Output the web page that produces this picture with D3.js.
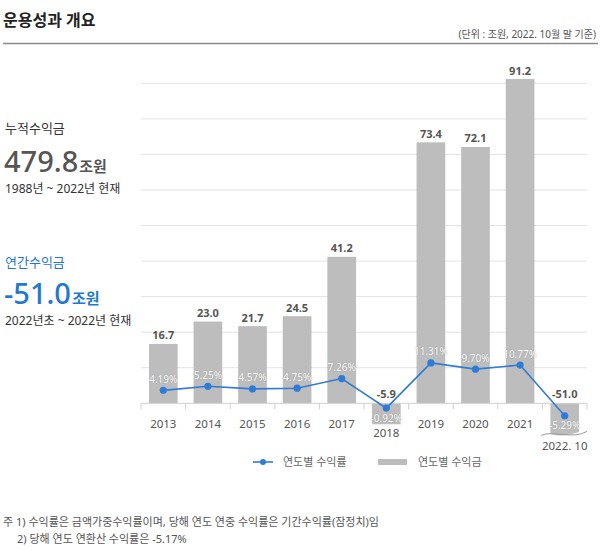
<!DOCTYPE html>
<html><head><meta charset="utf-8">
<script src="https://cdn.jsdelivr.net/npm/d3@7"></script>
<style>
html,body{margin:0;padding:0;background:#fff;}
svg{display:block;font-family:"Noto Sans","Noto Sans CJK KR",sans-serif;}
</style></head>
<body>
<svg id="chart" width="600" height="550"></svg>
<script>
const years = ["2013","2014","2015","2016","2017","2018","2019","2020","2021","2022. 10"];
const profits = [16.7, 23.0, 21.7, 24.5, 41.2, -5.9, 73.4, 72.1, 91.2, -51.0];
const rates = [4.19, 5.25, 4.57, 4.75, 7.26, -0.92, 11.31, 9.70, 10.77, -5.29];
const gridTicks = [10, 20, 30, 40, 50, 60, 70, 80, 90];
const breakValue = -8.6;

const svg = d3.select("#chart");
const blue = "#1f78d1";
const lineBlue = "#2f7bd6";

// Header
svg.append("text").attr("x", 3).attr("y", 25.5).attr("font-size", 16).attr("font-weight", 600)
  .attr("fill", "#222").text("운용성과 개요");
svg.append("text").attr("x", 596).attr("y", 37.5).attr("font-size", 10).attr("fill", "#555")
  .attr("text-anchor", "end").text("(단위 : 조원, 2022. 10월 말 기준)");
svg.append("line").attr("x1", 3).attr("x2", 598).attr("y1", 43.5).attr("y2", 43.5)
  .attr("stroke", "#8a8a8a").attr("stroke-width", 1.5);

// Left panel
svg.append("text").attr("x", 5).attr("y", 133).attr("font-size", 13).attr("fill", "#333").text("누적수익금");
const t1 = svg.append("text").attr("x", 4).attr("y", 171.5).attr("fill", "#555");
t1.append("tspan").attr("font-size", 29).attr("font-weight", 500).text("479.8");
t1.append("tspan").attr("font-size", 15).attr("font-weight", "bold").attr("dx", 1).text("조원");
svg.append("text").attr("x", 5).attr("y", 192.5).attr("font-size", 12).attr("fill", "#333").text("1988년 ~ 2022년 현재");

svg.append("text").attr("x", 5).attr("y", 267).attr("font-size", 13).attr("fill", blue).text("연간수익금");
const t2 = svg.append("text").attr("x", 4).attr("y", 304).attr("fill", blue);
t2.append("tspan").attr("font-size", 29).attr("font-weight", 500).text("-51.0");
t2.append("tspan").attr("font-size", 15).attr("font-weight", "bold").attr("dx", 1).text("조원");
svg.append("text").attr("x", 5).attr("y", 324.5).attr("font-size", 12).attr("fill", "#333").text("2022년초 ~ 2022년 현재");

// Scales
const x = d3.scaleBand().domain(years).range([141, 587]).paddingInner(0.357).paddingOuter(0.1785);
const y = d3.scaleLinear().domain([0, 90]).range([403.3, 83.3]);
const y0 = y(0);
const yr = d3.scaleLinear().domain([-6, 0, 12]).range([417, 406.5, 406.5 - 12 * 3.85]);

// Grid
svg.append("g").selectAll("line").data(gridTicks).join("line")
  .attr("x1", 141).attr("x2", 587).attr("y1", d => y(d)).attr("y2", d => y(d))
  .attr("stroke", "#e3e3e3").attr("stroke-width", 1);

// Bars
const bw = x.bandwidth();
const barG = svg.append("g");
profits.forEach((v, i) => {
  const x0 = x(years[i]), x1 = x0 + bw;
  if (v >= 0) {
    barG.append("rect").attr("x", x0).attr("y", y(v)).attr("width", bw).attr("height", y0 - y(v)).attr("fill", "#bdbdbd");
  } else if (v >= breakValue) {
    barG.append("rect").attr("x", x0).attr("y", y0).attr("width", bw).attr("height", y(v) - y0).attr("fill", "#bdbdbd");
  } else {
    const yb = y(breakValue);
    const path = d3.path();
    path.moveTo(x0, y0);
    path.lineTo(x1, y0);
    path.lineTo(x1, yb - 2);
    path.bezierCurveTo(x1 - 8, yb, x0 + 12, yb + 4, x0, yb);
    path.closePath();
    barG.append("path").attr("d", path.toString()).attr("fill", "#bdbdbd");
    const w = d3.path();
    w.moveTo(x0 - 9, yb + 1.5);
    w.bezierCurveTo(x0 + 2, yb - 4, x1 - 6, yb + 6, x1 + 8, yb - 2.5);
    barG.append("path").attr("d", w.toString()).attr("fill", "none").attr("stroke", "#9a9a9a").attr("stroke-width", 1);
  }
});

// Axis baseline & ticks
svg.append("line").attr("x1", 141).attr("x2", 587).attr("y1", y0).attr("y2", y0).attr("stroke", "#d0d0d0");
const tickXs = years.map(d => x(d) - x.step() * x.paddingOuter()).concat([587]);
svg.append("g").selectAll("line").data(tickXs).join("line")
  .attr("x1", d => d).attr("x2", d => d).attr("y1", y0).attr("y2", y0 + 6)
  .attr("stroke", "#d0d0d0");

// Year labels
svg.append("g").selectAll("text").data(years).join("text")
  .attr("x", d => x(d) + bw / 2)
  .attr("y", (d, i) => i === 9 ? 450 : (profits[i] < 0 ? 436.5 : 427.5))
  .attr("text-anchor", "middle").attr("font-size", 11.5).attr("fill", "#555").text(d => d);

// Value labels
svg.append("g").selectAll("text").data(profits).join("text")
  .attr("x", (d, i) => x(years[i]) + bw / 2)
  .attr("y", d => d >= 0 ? y(d) - 4.5 : y0 - 5)
  .attr("text-anchor", "middle").attr("font-size", 11).attr("font-weight", "bold").attr("fill", "#555")
  .text(d => d.toFixed(1));

// Line
const cx = i => x(years[i]) + bw / 2;
const line = d3.line().x((d, i) => cx(i)).y(d => yr(d));
svg.append("path").datum(rates).attr("d", line).attr("fill", "none").attr("stroke", lineBlue).attr("stroke-width", 1.6);
svg.append("g").selectAll("circle").data(rates).join("circle")
  .attr("cx", (d, i) => cx(i)).attr("cy", d => yr(d)).attr("r", 3.6).attr("fill", lineBlue);

// Rate labels
svg.append("g").selectAll("text").data(rates).join("text")
  .attr("x", (d, i) => cx(i))
  .attr("y", d => d >= 0 ? yr(d) - 7.5 : yr(d) + 13.5)
  .attr("text-anchor", "middle").attr("font-size", 10).attr("fill", "#fff")
  .style("text-shadow", "0 0 1px rgba(90,90,90,0.5)")
  .text(d => d.toFixed(2) + "%");

// Legend
const lg = svg.append("g");
lg.append("line").attr("x1", 253).attr("x2", 273).attr("y1", 462).attr("y2", 462).attr("stroke", lineBlue).attr("stroke-width", 1.6);
lg.append("circle").attr("cx", 263).attr("cy", 462).attr("r", 3).attr("fill", lineBlue);
lg.append("text").attr("x", 283).attr("y", 466).attr("font-size", 11).attr("fill", "#666").text("연도별 수익률");
lg.append("rect").attr("x", 378).attr("y", 459).attr("width", 29).attr("height", 6).attr("fill", "#bdbdbd");
lg.append("text").attr("x", 418).attr("y", 466).attr("font-size", 11).attr("fill", "#666").text("연도별 수익금");

// Footnotes
svg.append("text").attr("x", 3).attr("y", 525.5).attr("font-size", 11).attr("fill", "#555")
  .text("주 1) 수익률은 금액가중수익률이며, 당해 연도 연중 수익률은 기간수익률(잠정치)임");
svg.append("text").attr("x", 17).attr("y", 543).attr("font-size", 11).attr("fill", "#555")
  .text("2) 당해 연도 연환산 수익률은 -5.17%");
</script>
</body></html>
